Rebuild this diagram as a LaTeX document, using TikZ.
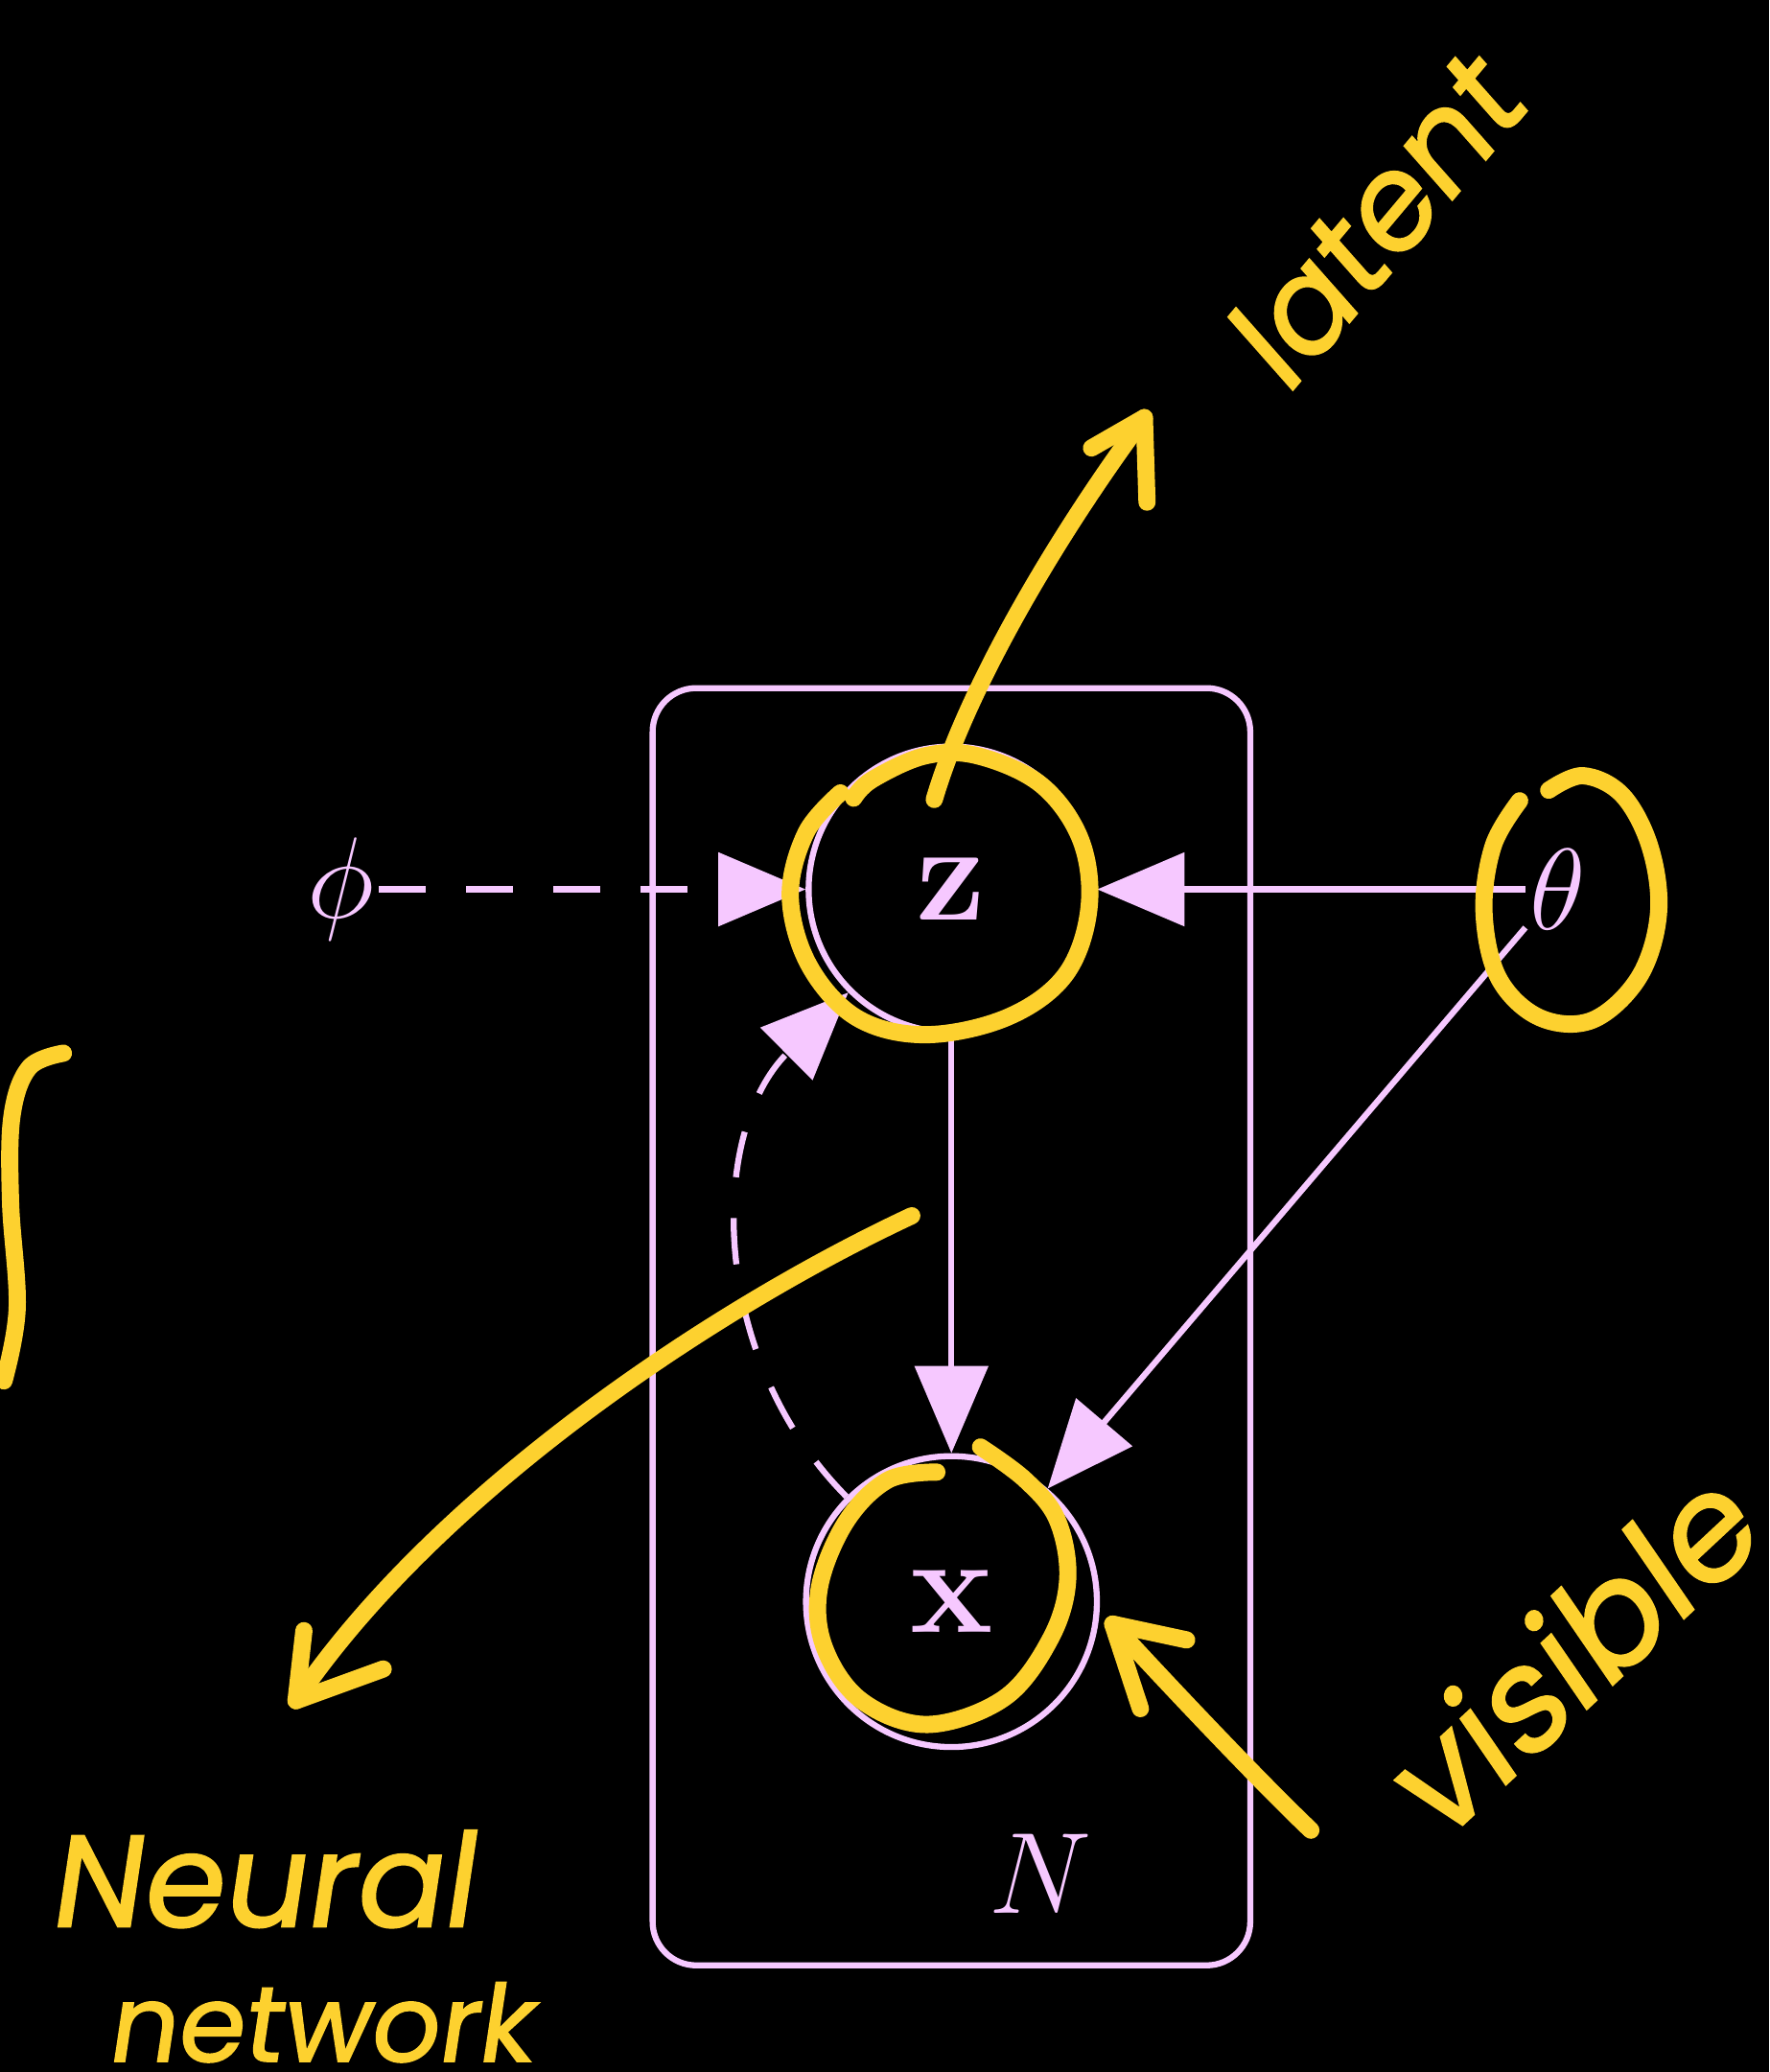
\documentclass[tikz,border=0pt]{standalone}
\usepackage{amsmath}
\usepackage{fontspec}
\usetikzlibrary{arrows.meta,positioning,calc}
\newfontfamily\handfont[FakeSlant=0.15,FakeBold=1.5]{Poppins}
\definecolor{platepink}{HTML}{F6C8FF}
\definecolor{penyellow}{HTML}{FDD12F}

\begin{document}
\begin{tikzpicture}[x=0.01cm, y=-0.01cm,
        var/.style={circle, draw=platepink, line width=1.3pt, minimum size=2.16cm, inner sep=0pt, text=platepink, font=\fontsize{30}{36}\selectfont},
        param/.style={inner sep=0pt, outer sep=1pt, text=platepink, font=\fontsize{30}{36}\selectfont},
        plate/.style={draw=platepink, line width=1.3pt, rounded corners=0.33cm, minimum width=4.52cm, minimum height=9.66cm},
        edge/.style={-{Triangle[length=0.66cm, width=0.55cm]}, draw=platepink, line width=1.3pt},
        infer/.style={edge, dash pattern=on 0.35cm off 0.31cm},
        pen/.style={draw=penyellow, line width=0.13cm, line cap=round, line join=round},
        hand/.style={text=penyellow, inner sep=0pt, font=\handfont\fontsize{28}{34}\selectfont}]

        \fill[black] (0,0) rectangle (1339,1568);
        \useasboundingbox (0,0) rectangle (1339,1568);
        \clip (0,0) rectangle (1339,1568);

        % Plate
        \node[plate] (plate) at (720,1004) {};
        \node[param] (lblN) at (787,1418) {$N$};

        % Variables
        \node[var] (z) at (720,673) {\textbf{z}};
        \node[var, minimum size=2.2cm] (x) at (720,1212) {\textbf{x}};
        \node[param] (phi) at (258,673) {$\phi$};
        \node[param] (theta) at (1179,673) {$\theta$};

        % Generative and inference edges
        \draw[infer] (phi) -- (z);
        \draw[edge] (theta) -- (z);
        \draw[edge] (z) -- (x);
        \draw[edge] (theta) -- (x);
        \draw[infer] (x) to[bend left=45] (z);

        % Hand notes: circles
        \draw[pen] plot[smooth, tension=0.6] coordinates {(646,604) (660,590) (700,572) (740,572) (788,594) (818,636) (824,688) (806,738) (762,770) (700,783) (648,770) (612,730) (598,678) (610,630) (636,600)};
        \draw[pen] plot[smooth, tension=0.6] coordinates {(1172,598) (1198,587) (1228,602) (1249,642) (1255,692) (1240,740) (1205,772) (1165,770) (1134,740) (1123,690) (1130,640) (1150,606)};
        \draw[pen] plot[smooth, tension=0.6] coordinates {(709,1114) (672,1120) (640,1152) (620,1202) (624,1247) (652,1287) (702,1305) (760,1285) (795,1240) (808,1195) (800,1150) (776,1120) (742,1095)};
        \draw[pen] plot[smooth, tension=0.6] coordinates {(48,797) (22,808) (9,845) (8,910) (13,990) (3,1045)};

        % Hand notes: latent
        \coordinate (latTail) at (707,605);
        \coordinate (latTip) at (866,316);
        \draw[pen] (latTail) .. controls (732,520) and (800,405) .. (latTip);
        \draw[pen] ($(latTip)+(-40,23)$) -- (latTip) -- ($(latTip)+(2,64)$);
        \node[hand, rotate=50] (latent) at (1038,168) {latent};

        % Hand notes: neural network
        \coordinate (nnTail) at (690,920);
        \coordinate (nnTip) at (224,1287);
        \draw[pen] (nnTail) .. controls (540,990) and (330,1130) .. (nnTip);
        \draw[pen] ($(nnTip)+(6,-53)$) -- (nnTip) -- ($(nnTip)+(66,-24)$);
        \node[hand, anchor=base west] (nnA) at (36,1458) {Neural};
        \node[hand, anchor=base west, font=\handfont\fontsize{23}{28}\selectfont] (nnB) at (80,1560) {network};

        % Hand notes: visible
        \coordinate (visTail) at (992,1385);
        \coordinate (visTip) at (842,1229);
        \draw[pen] (visTail) .. controls (950,1345) and (872,1262) .. (visTip);
        \draw[pen] ($(visTip)+(56,12)$) -- (visTip) -- ($(visTip)+(21,64)$);
        \node[hand, rotate=43, font=\handfont\fontsize{31}{37}\selectfont] (visible) at (1185,1252) {visible};
\end{tikzpicture}
\end{document}
